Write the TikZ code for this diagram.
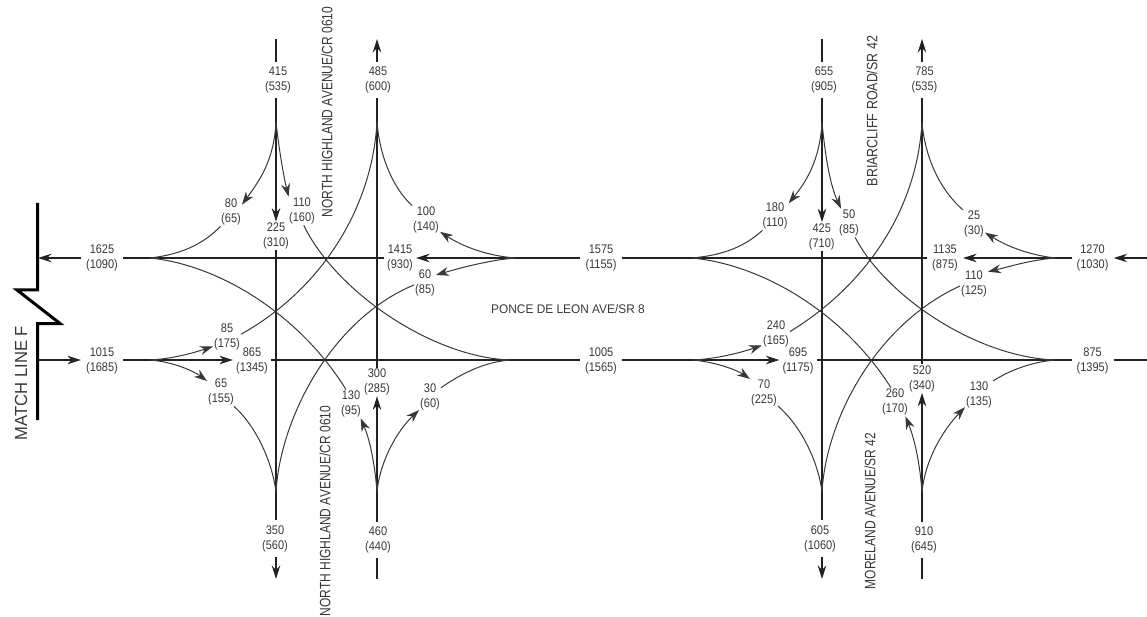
\documentclass[tikz,border=0pt]{standalone}
\usepackage{fontspec}
\setmainfont{Liberation Sans}[FakeStretch=0.88]
\newfontfamily\roadfont{Liberation Sans}[FakeStretch=0.80]
\newfontfamily\roadfontb{Liberation Sans}[FakeStretch=0.83]
\newfontfamily\roadfontc{Liberation Sans}[FakeStretch=0.95]
\usetikzlibrary{arrows.meta}
\definecolor{ink}{HTML}{222222}
\definecolor{txt}{HTML}{383838}
\tikzset{
  x=1pt,y=-1pt,
  road/.style={draw=ink,line width=1.3pt},
  roadarrow/.style={road,-{Stealth[length=13.5pt,width=8.5pt]}},
  turn/.style={draw=ink!90,line width=1pt},
  turnarrow/.style={turn,-{Stealth[length=13pt,width=9pt]}},
  lab/.style={font=\fontsize{12.5}{15}\selectfont,text=txt,align=center,inner xsep=1pt,inner ysep=1pt},
  gaplab/.style={lab,inner xsep=5pt,inner ysep=5pt},
  midlab/.style={lab,inner xsep=3pt,inner ysep=1pt},
  roadname/.style={font=\fontsize{15}{15}\roadfont,text=txt,rotate=90,inner sep=0pt},
  match/.style={draw=black,line width=3pt,line join=miter},
}
\begin{document}
\begin{tikzpicture}
\useasboundingbox (0,0) rectangle (1147,617);
% free ends and cusps
\coordinate (v1t) at (276,39); \coordinate (v1b) at (276,579);
\coordinate (v2t) at (377,39); \coordinate (v2b) at (377,579);
\coordinate (v3t) at (822,39); \coordinate (v3b) at (822,579);
\coordinate (v4t) at (922,39); \coordinate (v4b) at (922,579);
\coordinate (m1) at (38,258); \coordinate (m2) at (38,360);
\coordinate (e1) at (1147,258); \coordinate (e2) at (1147,360);
\coordinate (TL) at (276,122); \coordinate (TR) at (377,122);
\coordinate (BL) at (276,492); \coordinate (BR) at (377,492);
\coordinate (LT) at (150,258); \coordinate (RT) at (515,258);
\coordinate (LB) at (150,360); \coordinate (RB) at (510,360);
\coordinate (TLr) at (822,122); \coordinate (TRr) at (922,122);
\coordinate (BLr) at (822,492); \coordinate (BRr) at (922,492);
\coordinate (LTr) at (692,258); \coordinate (RTr) at (1055,258);
\coordinate (LBr) at (693,360); \coordinate (RBr) at (1055,360);
% labels on the roads
\node[gaplab] (n415) at (278,80) {415\\(535)};
\node[gaplab] (n485) at (378,80) {485\\(600)};
\node[gaplab] (n655) at (824,80) {655\\(905)};
\node[gaplab] (n785) at (924.5,80) {785\\(535)};
\node[lab] (n225) at (276,236) {225\\(310)};
\node[lab] (n425) at (821.7,236.5) {425\\(710)};
\node[lab] (n300) at (377,382) {300\\(285)};
\node[lab] (n520) at (922,378.5) {520\\(340)};
\node[gaplab] (n350) at (275,538.5) {350\\(560)};
\node[gaplab] (n460) at (378,540) {460\\(440)};
\node[gaplab] (n605) at (820,538.5) {605\\(1060)};
\node[gaplab] (n910) at (924,540) {910\\(645)};
\node[gaplab] (n1625) at (102,258) {1625\\(1090)};
\node[midlab] (n1415) at (400,258) {1415\\(930)};
\node[gaplab] (n1575) at (601,258) {1575\\(1155)};
\node[gaplab] (n1135) at (945,258) {1135\\(875)};
\node[gaplab] (n1270) at (1092.6,258) {1270\\(1030)};
\node[gaplab] (n1015) at (102,361) {1015\\(1685)};
\node[midlab] (n865) at (252,361) {865\\(1345)};
\node[gaplab] (n1005) at (601,361) {1005\\(1565)};
\node[midlab] (n695) at (798,361) {695\\(1175)};
\node[gaplab] (n875) at (1092.6,361) {875\\(1395)};
% labels on the turns
\node[lab] (n80) at (231,212) {80\\(65)};
\node[lab] (n110) at (302,211) {110\\(160)};
\node[lab] (n100) at (426,220) {100\\(140)};
\node[lab] (n60) at (425,283) {60\\(85)};
\node[lab] (n85) at (227,337) {85\\(175)};
\node[lab] (n65) at (221,392) {65\\(155)};
\node[lab] (n130) at (351,404) {130\\(95)};
\node[lab] (n30) at (430,397) {30\\(60)};
\node[lab] (n180) at (775,216) {180\\(110)};
\node[lab] (n50) at (849,223) {50\\(85)};
\node[lab] (n25) at (974,224) {25\\(30)};
\node[lab] (n110r) at (974,283.5) {110\\(125)};
\node[lab] (n240) at (776,333.5) {240\\(165)};
\node[lab] (n70) at (764,393) {70\\(225)};
\node[lab] (n260) at (895,402) {260\\(170)};
\node[lab] (n130r) at (979,395) {130\\(135)};
% road names
\node[roadname] (r1) at (327,112) {NORTH HIGHLAND AVENUE/CR 0610};
\node[roadname] (r2) at (325,511) {NORTH HIGHLAND AVENUE/CR 0610};
\node[roadname,font=\fontsize{15}{15}\roadfontb] (r3) at (872,111) {BRIARCLIFF ROAD/SR 42};
\node[roadname] (r4) at (870,511) {MORELAND AVENUE/SR 42};
\node[roadname,font=\fontsize{17.5}{18}\roadfontc] (r5) at (21,383) {MATCH LINE F};
\node[font=\fontsize{12.5}{15}\roadfontc,text=txt,inner sep=0pt] (r6) at (568,309) {PONCE DE LEON AVE/SR 8};
% match line
\draw[match] (37.5,203) -- (37.5,290) -- (17,290) -- (60,323.5) -- (37.5,323.5) -- (37.5,420);
% vertical roads
\draw[road] (v1t) -- (n415.north -| v1t);
\draw[roadarrow] (n415.south -| v1t) -- (n225.north -| v1t);
\draw[road] (n225.south -| v1t) -- (n350.north -| v1t);
\draw[roadarrow] (n350.south -| v1t) -- (v1b);
\draw[roadarrow] (n485.north -| v2t) -- (v2t);
\draw[road] (n485.south -| v2t) -- (n300.north -| v2t);
\draw[roadarrow] (n460.north -| v2t) -- (n300.south -| v2t);
\draw[road] (n460.south -| v2t) -- (v2b);
\draw[road] (v3t) -- (n655.north -| v3t);
\draw[roadarrow] (n655.south -| v3t) -- (n425.north -| v3t);
\draw[road] (n425.south -| v3t) -- (n605.north -| v3t);
\draw[roadarrow] (n605.south -| v3t) -- (v3b);
\draw[roadarrow] (n785.north -| v4t) -- (v4t);
\draw[road] (n785.south -| v4t) -- (n520.north -| v4t);
\draw[roadarrow] (n910.north -| v4t) -- (n520.south -| v4t);
\draw[road] (n910.south -| v4t) -- (v4b);
% horizontal roads
\draw[roadarrow] (n1625.west) -- (m1);
\draw[road] (n1415.west) -- (n1625.east);
\draw[roadarrow] (n1575.west) -- (n1415.east);
\draw[road] (n1135.west) -- (n1575.east);
\draw[roadarrow] (n1270.west) -- (n1135.east);
\draw[roadarrow] (e1) -- (n1270.east);
\draw[roadarrow] (m2) -- (n1015.west |- m2);
\draw[roadarrow] (n1015.east |- m2) -- (n865.west |- m2);
\draw[road] (n865.east |- m2) -- (n1005.west |- m2);
\draw[roadarrow] (n1005.east |- m2) -- (n695.west |- m2);
\draw[road] (n695.east |- m2) -- (n875.west |- m2);
\draw[road] (n875.east |- m2) -- (e2);
% left intersection turns
\draw[turnarrow] (TL) .. controls (279,150) and (284,178) .. (n110.133);
\draw[turn] (n110.277) .. controls (335,290) and (430,357) .. (RB);
\draw[turn] (TR) .. controls (372,210) and (320,290) .. (n85.11);
\draw[turnarrow] (LB) .. controls (170,359) and (190,354) .. (n85.214);
\draw[turnarrow] (TL) .. controls (274,160) and (260,180) .. (n80.34);
\draw[turn] (n80.234) .. controls (205,242) and (185,254) .. (LT);
\draw[turn] (TR) .. controls (380,160) and (395,190) .. (n100.134);
\draw[turnarrow] (RT) .. controls (490,256) and (465,248) .. (n100.320);
\draw[turn] (LT) .. controls (220,265) and (300,315) .. (n130.109);
\draw[turnarrow] (BR) .. controls (375,465) and (370,440) .. (n130.304);
\draw[turn] (BL) .. controls (280,420) and (330,320) .. (n60.190);
\draw[turnarrow] (RT) .. controls (490,260) and (460,268) .. (n60.36);
\draw[turnarrow] (LB) .. controls (175,362) and (195,372) .. (n65.142);
\draw[turn] (n65.312) .. controls (255,425) and (272,460) .. (BL);
\draw[turnarrow] (BR) .. controls (380,460) and (398,430) .. (n30.230);
\draw[turn] (n30.40) .. controls (462,373) and (485,362) .. (RB);
% right intersection turns
\draw[turnarrow] (TLr) .. controls (825,155) and (830,185) .. (n50.119);
\draw[turn] (n50.293) .. controls (885,295) and (975,357) .. (RBr);
\draw[turn] (TRr) .. controls (917,210) and (866,285) .. (n240.8);
\draw[turnarrow] (LBr) .. controls (715,359) and (740,353) .. (n240.220);
\draw[turnarrow] (TLr) .. controls (820,160) and (806,182) .. (n180.43);
\draw[turn] (n180.229) .. controls (745,246) and (725,255) .. (LTr);
\draw[turn] (TRr) .. controls (925,160) and (942,192) .. (n25.128);
\draw[turnarrow] (RTr) .. controls (1030,255) and (1008,247) .. (n25.322);
\draw[turn] (LTr) .. controls (765,265) and (845,315) .. (n260.106);
\draw[turnarrow] (BRr) .. controls (920,465) and (915,440) .. (n260.306);
\draw[turn] (BLr) .. controls (826,420) and (875,325) .. (n110r.190);
\draw[turnarrow] (RTr) .. controls (1030,260) and (1008,267) .. (n110r.40);
\draw[turnarrow] (LBr) .. controls (715,362) and (737,370) .. (n70.135);
\draw[turn] (n70.317) .. controls (800,425) and (818,460) .. (BLr);
\draw[turnarrow] (BRr) .. controls (925,460) and (943,430) .. (n130r.221);
\draw[turn] (n130r.45) .. controls (1010,370) and (1032,362) .. (RBr);
\end{tikzpicture}
\end{document}
